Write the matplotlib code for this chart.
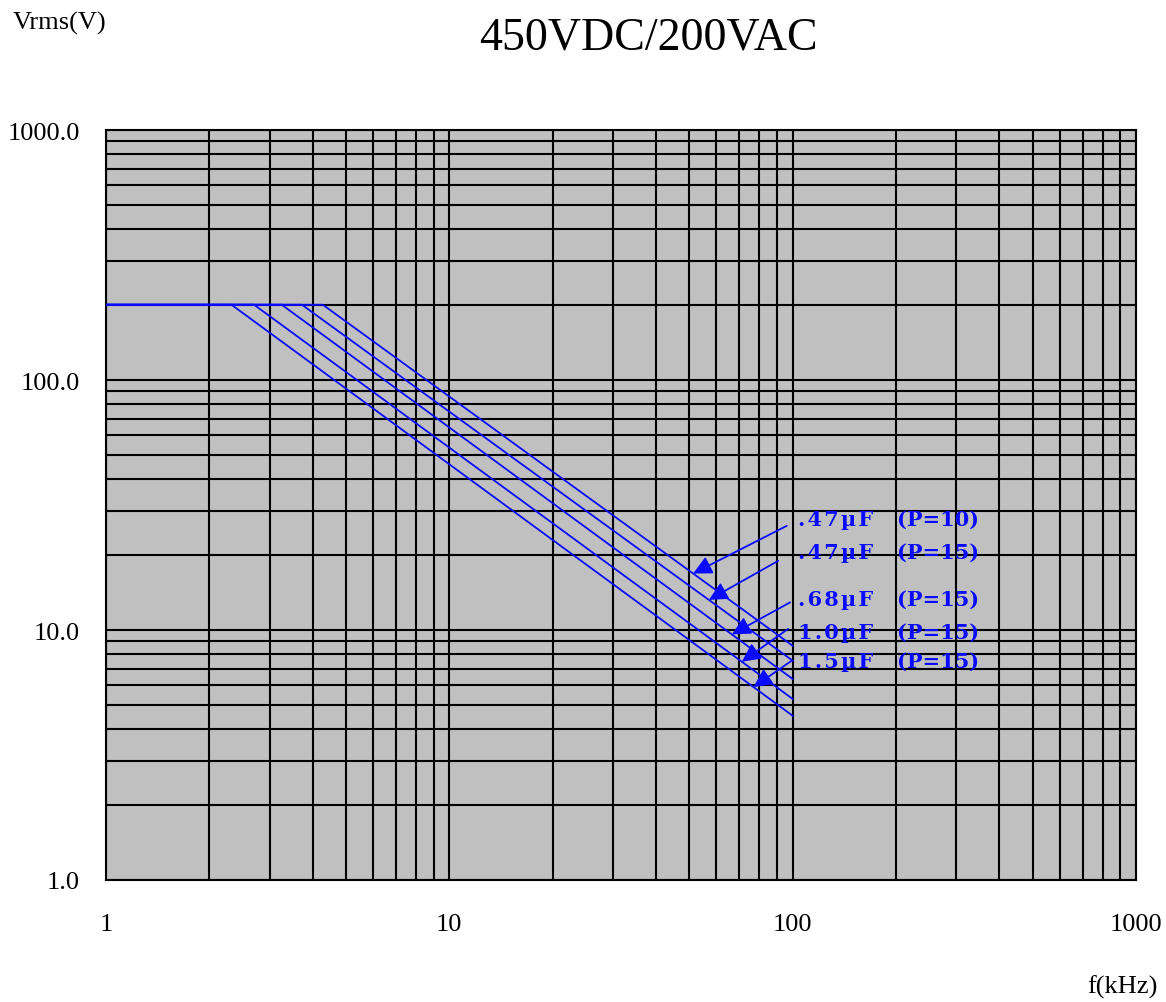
import numpy as np
import matplotlib
matplotlib.use("Agg")
import matplotlib.pyplot as plt
from matplotlib.ticker import LogLocator, NullFormatter

# ---- data ----
plateau_v = 200.0
start_khz = 1.0
end_khz = 100.0
corner_khz = [4.28, 3.72, 3.25, 2.70, 2.32]
end_v = [8.65, 7.54, 6.37, 5.30, 4.54]
cap_labels = [".47\u00b5F", ".47\u00b5F", ".68\u00b5F", "1.0\u00b5F", "1.5\u00b5F"]
pitch_labels = ["(P=10)", "(P=15)", "(P=15)", "(P=15)", "(P=15)"]
arrow_target_khz = [51.3, 57.0, 66.5, 71.1, 76.9]
arrow_tail_khz = [96.1, 90.7, 98.3, 97.0, 99.4]
arrow_tail_v = [26.1, 18.9, 12.9, 10.1, 7.54]
label_khz = 103.7
label_v = [27.8, 20.5, 13.3, 9.8, 7.52]
pitch_khz = 201.0
xticks = [1, 10, 100, 1000]
xtick_labels = ["1", "10", "100", "1000"]
yticks = [1, 10, 100, 1000]
ytick_labels = ["1.0", "10.0", "100.0", "1000.0"]

blue = "#0a0aff"
serif = ["Liberation Serif", "DejaVu Serif"]

fig = plt.figure(figsize=(11.66, 10.03), dpi=100)
ax = fig.add_axes([106 / 1166, 1 - 881 / 1003, 1030 / 1166, 750 / 1003])
ax.set_facecolor("#c0c0c0")
ax.set_xscale("log")
ax.set_yscale("log")
ax.set_xlim(1, 1000)
ax.set_ylim(1, 1000)

ax.xaxis.set_minor_locator(LogLocator(base=10, subs=np.arange(2, 10)))
ax.yaxis.set_minor_locator(LogLocator(base=10, subs=np.arange(2, 10)))
ax.xaxis.set_minor_formatter(NullFormatter())
ax.yaxis.set_minor_formatter(NullFormatter())
ax.grid(True, which="both", color="black", linewidth=1.5)
ax.set_axisbelow(True)
ax.set_xticks(xticks)
ax.set_xticklabels(xtick_labels, fontfamily=serif, fontsize=19)
ax.set_yticks(yticks)
ax.set_yticklabels(ytick_labels, fontfamily=serif, fontsize=19)
ax.tick_params(which="both", length=0)
ax.tick_params(axis="x", pad=24)
ax.tick_params(axis="y", pad=19)
for s in ax.spines.values():
    s.set_color("black")
    s.set_linewidth(1.5)

def line_v(i, f):
    lx = np.log10([start_khz, corner_khz[i], end_khz])
    ly = np.log10([plateau_v, plateau_v, end_v[i]])
    return 10 ** np.interp(np.log10(f), lx, ly)

def spaced(s):
    return "\u200a".join(s)

for i in range(len(corner_khz)):
    ax.plot([start_khz, corner_khz[i], end_khz], [plateau_v, plateau_v, end_v[i]],
            color=blue, lw=1.3, zorder=3)
    tx = arrow_target_khz[i]
    ax.annotate("", xy=(tx, line_v(i, tx)), xytext=(arrow_tail_khz[i], arrow_tail_v[i]),
                arrowprops=dict(arrowstyle="-|>", color=blue, lw=1.3, mutation_scale=28,
                                shrinkA=0, shrinkB=0), zorder=4)
    ax.text(label_khz, label_v[i], spaced(cap_labels[i]), color=blue, fontsize=15,
            fontweight="bold", fontfamily=["DejaVu Serif"], va="center", ha="left", zorder=5)
    ax.text(pitch_khz, label_v[i], pitch_labels[i], color=blue, fontsize=15,
            fontweight="bold", fontfamily=["DejaVu Serif"], va="center", ha="left", zorder=5)

fig.text(648 / 1166, 1 - 38 / 1003, "450VDC/200VAC", fontfamily=serif, fontsize=33,
         ha="center", va="center")
fig.text(13 / 1166, 1 - 23 / 1003, "Vrms(V)", fontfamily=serif, fontsize=19,
         ha="left", va="center")
fig.text(1122 / 1166, 1 - 987 / 1003, "f(kHz)", fontfamily=serif, fontsize=19,
         ha="center", va="center")

fig.savefig("out.png", dpi=100, facecolor="white")
